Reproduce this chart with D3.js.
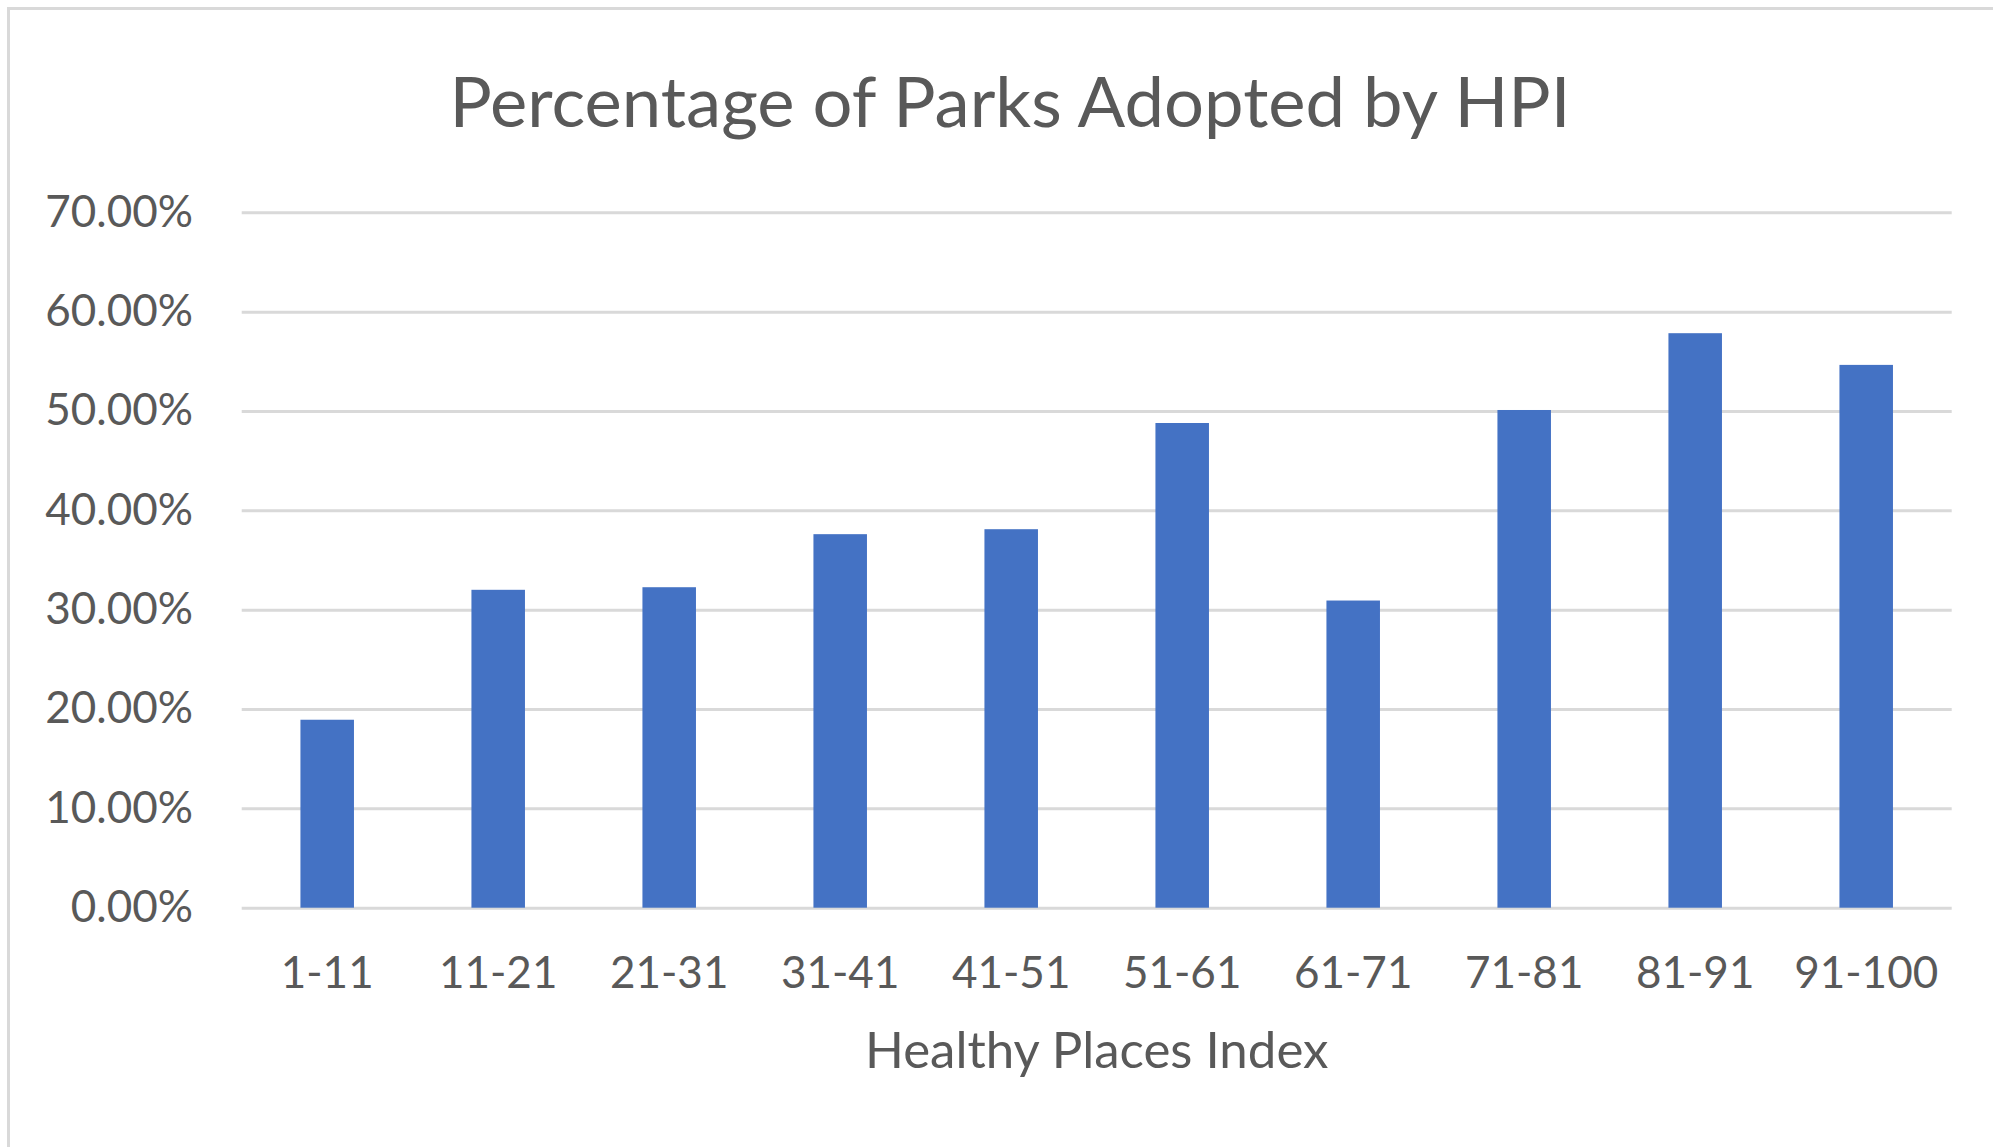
<!DOCTYPE html>
<html>
<head>
<meta charset="utf-8">
<script src="https://d3js.org/d3.v7.min.js"></script>
<style>
	body { margin: 0; background: #fff; overflow: hidden; }
	text { font-family: Lato, "Open Sans", sans-serif; fill: #595959; }
</style>
</head>
<body>
<script>
// chart data
var categories = ["1-11", "11-21", "21-31", "31-41", "41-51", "51-61", "61-71", "71-81", "81-91", "91-100"];
var adopted = [18.92, 32.0, 32.26, 37.6, 38.1, 48.79, 30.92, 50.1, 57.83, 54.64];
var yTicks = [0, 10, 20, 30, 40, 50, 60, 70];
var chartTitle = "Percentage of Parks Adopted by HPI";
var xTitle = "Healthy Places Index";

var width = 1993,
	height = 1147,
	svg, x, y;

// plot area (pixels)
var plot = { left: 241.7, right: 1951.7, top: 212.3, bottom: 907.7 };

function init() {
	svg = d3.select("body")
		.append("svg")
		.attr("width", width)
		.attr("height", height);

	// chart area border, only top and left edges are in frame
	svg.append("rect")
		.attr("x", 8.5)
		.attr("y", 8.5)
		.attr("width", 2100)
		.attr("height", 1300)
		.attr("fill", "none")
		.attr("stroke", "#d9d9d9")
		.attr("stroke-width", 3);

	x = d3.scaleBand()
		.domain(categories)
		.range([plot.left, plot.right])
		.paddingInner(0.687)
		.paddingOuter(0.3435);

	y = d3.scaleLinear()
		.domain([0, 70])
		.range([plot.bottom, plot.top]);

	drawGrid();
	drawBars();
	drawLabels();
}

function drawGrid() {
	var yAxis = svg.append("g")
		.attr("class", "y-axis")
		.attr("transform", "translate(" + plot.left + ",0)")
		.call(d3.axisLeft(y)
			.tickValues(yTicks)
			.tickSize(-(plot.right - plot.left))
			.tickFormat(function(d) { return d3.format(".2f")(d) + "%"; }));

	yAxis.select(".domain").remove();
	yAxis.selectAll(".tick line")
		.attr("stroke", "#d9d9d9")
		.attr("stroke-width", 3);
	yAxis.selectAll(".tick text")
		.attr("x", 193 - plot.left)
		.attr("dy", "-0.07em")
		.attr("dominant-baseline", "central")
		.attr("font-size", 44)
		.attr("fill", "#595959");
}

function drawBars() {
	svg.append("g")
		.attr("class", "bars")
		.selectAll("rect")
		.data(adopted)
		.enter().append("rect")
		.attr("x", function(d, i) { return x(categories[i]); })
		.attr("y", function(d) { return y(d); })
		.attr("width", x.bandwidth())
		.attr("height", function(d) { return y(0) - y(d); })
		.attr("fill", "#4472c4");
}

function drawLabels() {
	var xAxis = svg.append("g")
		.attr("class", "x-axis")
		.attr("transform", "translate(0," + plot.bottom + ")")
		.call(d3.axisBottom(x).tickSize(0));

	xAxis.select(".domain").remove();
	xAxis.selectAll(".tick text")
		.attr("y", 80)
		.attr("dy", null)
		.attr("font-size", 44)
		.attr("fill", "#595959");

	var title = svg.append("text")
		.attr("x", 1010)
		.attr("y", 127)
		.attr("text-anchor", "middle")
		.attr("font-size", 66)
		.text(chartTitle);

	// scale the title to the reference width
	var w = title.node().getComputedTextLength();
	title.attr("font-size", 66 * 1121 / w);

	svg.append("text")
		.attr("x", (plot.left + plot.right) / 2)
		.attr("y", 1068)
		.attr("text-anchor", "middle")
		.attr("font-size", 51)
		.text(xTitle);
}

window.onload = init;
</script>
</body>
</html>
